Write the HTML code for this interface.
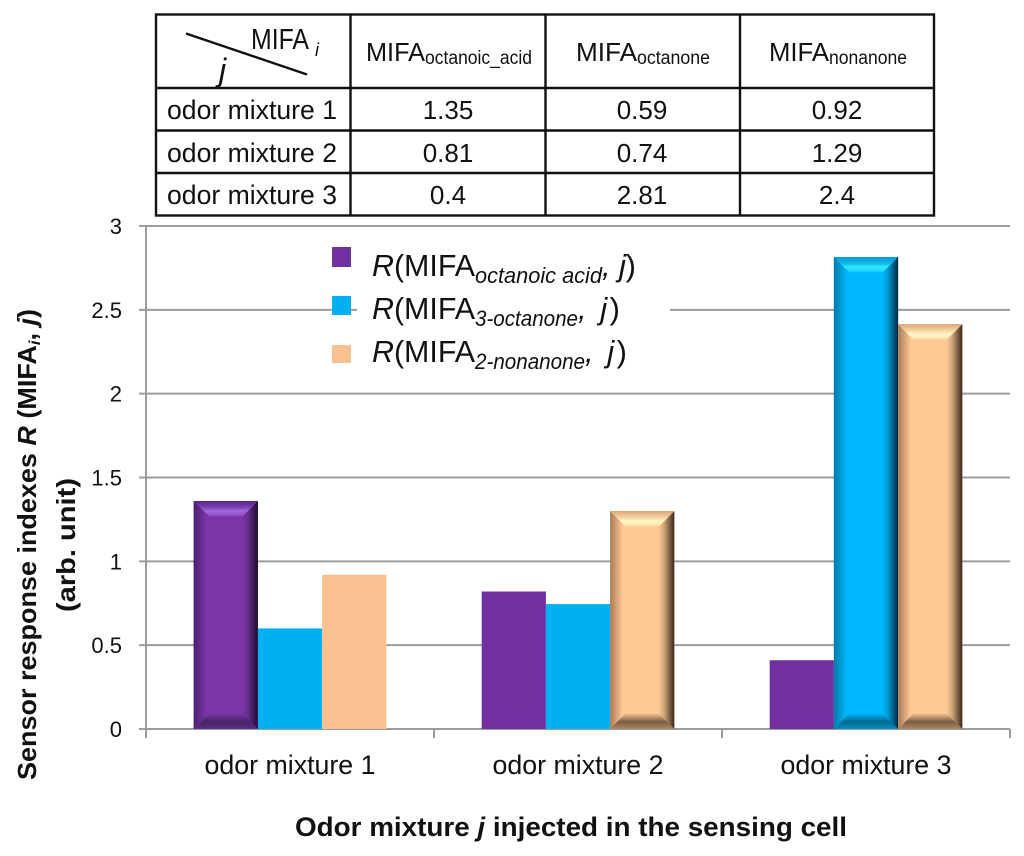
<!DOCTYPE html>
<html lang="en">
<head>
<meta charset="utf-8">
<title>Sensor response indexes by odor mixture</title>
<style>
html,body{margin:0;padding:0;background:#fff;}
svg{display:block;}
text{font-family:"Liberation Sans",sans-serif;fill:#111;}
</style>
</head>
<body>
<svg id="figure" width="1024" height="856" viewBox="0 0 1024 856" xmlns="http://www.w3.org/2000/svg">
  <defs>
    <linearGradient id="top-s0" x1="0" y1="0" x2="0" y2="1"><stop offset="0" stop-color="#552682"/><stop offset=".4" stop-color="#7d42b4"/><stop offset=".62" stop-color="#a466dc"/><stop offset=".85" stop-color="#9556c8"/><stop offset="1" stop-color="#7b35a8"/></linearGradient>
    <linearGradient id="top-s1" x1="0" y1="0" x2="0" y2="1"><stop offset="0" stop-color="#0096cc"/><stop offset=".4" stop-color="#10b8e8"/><stop offset=".62" stop-color="#30e8ff"/><stop offset=".85" stop-color="#20d8ff"/><stop offset="1" stop-color="#00b8ff"/></linearGradient>
    <linearGradient id="top-s2" x1="0" y1="0" x2="0" y2="1"><stop offset="0" stop-color="#dda477"/><stop offset=".4" stop-color="#f4d4a0"/><stop offset=".62" stop-color="#fff6c4"/><stop offset=".85" stop-color="#ffeab4"/><stop offset="1" stop-color="#ffc996"/></linearGradient>
    <linearGradient id="left-s0" x1="0" y1="0" x2="1" y2="0"><stop offset="0" stop-color="#4a2070"/><stop offset=".8" stop-color="#7b35a8"/><stop offset="1" stop-color="#7b35a8"/></linearGradient>
    <linearGradient id="left-s1" x1="0" y1="0" x2="1" y2="0"><stop offset="0" stop-color="#0078a8"/><stop offset=".8" stop-color="#00b8ff"/><stop offset="1" stop-color="#00b8ff"/></linearGradient>
    <linearGradient id="left-s2" x1="0" y1="0" x2="1" y2="0"><stop offset="0" stop-color="#a87c58"/><stop offset=".8" stop-color="#ffc996"/><stop offset="1" stop-color="#ffc996"/></linearGradient>
    <linearGradient id="right-s0" x1="0" y1="0" x2="1" y2="0"><stop offset="0" stop-color="#7b35a8"/><stop offset=".35" stop-color="#6a2e90"/><stop offset="1" stop-color="#1c0c30"/></linearGradient>
    <linearGradient id="right-s1" x1="0" y1="0" x2="1" y2="0"><stop offset="0" stop-color="#00b8ff"/><stop offset=".35" stop-color="#009cd8"/><stop offset="1" stop-color="#002a40"/></linearGradient>
    <linearGradient id="right-s2" x1="0" y1="0" x2="1" y2="0"><stop offset="0" stop-color="#ffc996"/><stop offset=".35" stop-color="#d4a67c"/><stop offset="1" stop-color="#3a2818"/></linearGradient>
    <linearGradient id="bottom-s0" x1="0" y1="0" x2="0" y2="1"><stop offset="0" stop-color="#7b35a8"/><stop offset=".55" stop-color="#472568"/><stop offset="1" stop-color="#5b2b86"/></linearGradient>
    <linearGradient id="bottom-s1" x1="0" y1="0" x2="0" y2="1"><stop offset="0" stop-color="#00b8ff"/><stop offset=".55" stop-color="#066a90"/><stop offset="1" stop-color="#0090c4"/></linearGradient>
    <linearGradient id="bottom-s2" x1="0" y1="0" x2="0" y2="1"><stop offset="0" stop-color="#ffc996"/><stop offset=".55" stop-color="#7a5c44"/><stop offset="1" stop-color="#b08660"/></linearGradient>
  </defs>

  <g id="data-table">
    <g stroke="#111" stroke-width="2.4" fill="none">
      <rect x="156" y="14.5" width="778" height="201"/>
      <line x1="350.5" y1="14" x2="350.5" y2="216"/>
      <line x1="545.5" y1="14" x2="545.5" y2="216"/>
      <line x1="740" y1="14" x2="740" y2="216"/>
      <line x1="156" y1="88" x2="934" y2="88"/>
      <line x1="156" y1="130.5" x2="934" y2="130.5"/>
      <line x1="156" y1="173" x2="934" y2="173"/>
      <line x1="186" y1="33.5" x2="307" y2="74.5"/>
    </g>
    <text x="251" y="49" font-size="29" textLength="58" lengthAdjust="spacingAndGlyphs">MIFA</text>
    <text x="315" y="56" font-size="18" font-style="italic">i</text>
    <text x="219" y="81" font-size="32" font-style="italic">j</text>

    <text x="366" y="61" font-size="26" textLength="59" lengthAdjust="spacingAndGlyphs">MIFA</text>
    <text x="425" y="64" font-size="19" textLength="107" lengthAdjust="spacingAndGlyphs">octanoic_acid</text>
    <text x="576" y="61" font-size="26" textLength="61" lengthAdjust="spacingAndGlyphs">MIFA</text>
    <text x="637" y="64" font-size="19" textLength="73" lengthAdjust="spacingAndGlyphs">octanone</text>
    <text x="769" y="61" font-size="26" textLength="60" lengthAdjust="spacingAndGlyphs">MIFA</text>
    <text x="829" y="64" font-size="19" textLength="78" lengthAdjust="spacingAndGlyphs">nonanone</text>

    <text x="167" y="119" font-size="27" textLength="170" lengthAdjust="spacingAndGlyphs">odor mixture 1</text>
    <text x="167" y="162" font-size="27" textLength="170" lengthAdjust="spacingAndGlyphs">odor mixture 2</text>
    <text x="167" y="204" font-size="27" textLength="170" lengthAdjust="spacingAndGlyphs">odor mixture 3</text>

    <g font-size="26" text-anchor="middle">
      <text x="448" y="119">1.35</text>
      <text x="642" y="119">0.59</text>
      <text x="837" y="119">0.92</text>
      <text x="448" y="162">0.81</text>
      <text x="642" y="162">0.74</text>
      <text x="837" y="162">1.29</text>
      <text x="448" y="204">0.4</text>
      <text x="642" y="204">2.81</text>
      <text x="837" y="204">2.4</text>
    </g>
  </g>

  <g id="chart"></g>

  <text transform="translate(36,780) rotate(-90)" font-size="26" font-weight="bold" textLength="471" lengthAdjust="spacingAndGlyphs">Sensor response indexes <tspan font-style="italic">R</tspan> (MIFA<tspan font-size="16" font-style="italic" dy="4">i</tspan><tspan dy="-4">, </tspan><tspan font-style="italic">j</tspan>)</text>
  <text transform="translate(75,612) rotate(-90)" font-size="26" font-weight="bold" textLength="134" lengthAdjust="spacingAndGlyphs">(arb. unit)</text>
  <text x="295" y="836" font-size="27" font-weight="bold" textLength="552" lengthAdjust="spacingAndGlyphs">Odor mixture <tspan font-style="italic">j</tspan> injected in the sensing cell</text>

  <g id="legend">
    <rect x="357" y="300" width="313" height="20" fill="#fff"/>
    <rect x="332" y="247" width="19" height="20" fill="#7030a0"/>
    <text x="372" y="276" font-size="31" textLength="103" lengthAdjust="spacingAndGlyphs"><tspan font-style="italic">R</tspan>(MIFA</text>
    <text x="475" y="283" font-size="22" font-style="italic" textLength="127" lengthAdjust="spacingAndGlyphs">octanoic acid</text>
    <text x="602" y="276" font-size="31" font-style="italic" textLength="34" lengthAdjust="spacing">, j<tspan font-style="normal">)</tspan></text>

    <rect x="332" y="296" width="19" height="19" fill="#00b0f0"/>
    <text x="372" y="319" font-size="31" textLength="103" lengthAdjust="spacingAndGlyphs"><tspan font-style="italic">R</tspan>(MIFA</text>
    <text x="475" y="326" font-size="22" font-style="italic" textLength="103" lengthAdjust="spacingAndGlyphs">3-octanone</text>
    <text x="578" y="319" font-size="31" font-style="italic" textLength="42" lengthAdjust="spacing">, j<tspan font-style="normal">)</tspan></text>

    <rect x="332" y="345" width="19" height="18" fill="#fac090"/>
    <text x="372" y="362" font-size="31" textLength="103" lengthAdjust="spacingAndGlyphs"><tspan font-style="italic">R</tspan>(MIFA</text>
    <text x="475" y="369" font-size="22" font-style="italic" textLength="110" lengthAdjust="spacingAndGlyphs">2-nonanone</text>
    <text x="585" y="362" font-size="31" font-style="italic" textLength="42" lengthAdjust="spacing">, j<tspan font-style="normal">)</tspan></text>
  </g>
</svg>

<script>
const categories = ["odor mixture 1", "odor mixture 2", "odor mixture 3"];
const octanoicAcidValues = [1.36, 0.82, 0.41];
const octanoneValues = [0.6, 0.745, 2.815];
const nonanoneValues = [0.92, 1.3, 2.415];
const yTickValues = [0, 0.5, 1, 1.5, 2, 2.5, 3];
const yTickLabels = ["0", "0.5", "1", "1.5", "2", "2.5", "3"];

const seriesValues = [octanoicAcidValues, octanoneValues, nonanoneValues];
const seriesKeys = ["octanoic-acid", "3-octanone", "2-nonanone"];
const plainColors = ["#7030a0", "#00b0f0", "#fac090"];
const centerColors = ["#7b35a8", "#00b8ff", "#ffc996"];
const beveledBars = new Set(["0-0", "1-2", "2-1", "2-2"]);

const SVG_NS = "http://www.w3.org/2000/svg";
const chart = document.getElementById("chart");
const PLOT_LEFT = 146, PLOT_RIGHT = 1010, PLOT_TOP = 226, PLOT_BOTTOM = 729;
const Y_MAX = 3, BAR_WIDTH = 64.2, BEVEL = 16, AXIS_COLOR = "#9c9c9c";

function yScale(v) { return PLOT_BOTTOM - (v / Y_MAX) * (PLOT_BOTTOM - PLOT_TOP); }
function groupLeft(i) { return PLOT_LEFT + i * (PLOT_RIGHT - PLOT_LEFT) / categories.length; }
function groupCenter(i) { return groupLeft(i + 0.5); }
function barX(i, s) { return groupCenter(i) - 1.5 * BAR_WIDTH + s * BAR_WIDTH; }

function make(tag, attrs, parent) {
  const el = document.createElementNS(SVG_NS, tag);
  for (const k in attrs) el.setAttribute(k, attrs[k]);
  parent.appendChild(el);
  return el;
}

yTickValues.forEach(function (v, i) {
  const y = yScale(v);
  const grid = make("line", { x1: PLOT_LEFT - 7, x2: PLOT_RIGHT, y1: y, y2: y, stroke: AXIS_COLOR, "stroke-width": 2 }, chart);
  
  
  const label = make("text", { x: 122, y: y + 8, "font-size": 22, "text-anchor": "end" }, chart);
  label.textContent = yTickLabels[i];
  
  
});

const yAxis = make("line", { x1: PLOT_LEFT, x2: PLOT_LEFT, y1: PLOT_TOP, y2: PLOT_BOTTOM, stroke: AXIS_COLOR, "stroke-width": 2 }, chart);



for (let i = 0; i <= categories.length; i++) {
  const tick = make("line", { x1: groupLeft(i), x2: groupLeft(i), y1: PLOT_BOTTOM, y2: PLOT_BOTTOM + 9, stroke: AXIS_COLOR, "stroke-width": 2 }, chart);
  
  
}

function pts(list) { return list.map(function (p) { return p[0] + "," + p[1]; }).join(" "); }

function drawBevel(group, s, x, y, w, h) {
  const d = Math.min(BEVEL, h / 2, w / 2);
  const r = x + w, b = y + h;
  make("rect", { x: x, y: y, width: w, height: h, fill: centerColors[s] }, group);
  make("polygon", { points: pts([[x, y], [x + d, y + d], [x + d, b - d], [x, b]]), fill: "url(#left-s" + s + ")" }, group);
  make("polygon", { points: pts([[r, y], [r - d, y + d], [r - d, b - d], [r, b]]), fill: "url(#right-s" + s + ")" }, group);
  make("polygon", { points: pts([[x, y], [r, y], [r - d, y + d], [x + d, y + d]]), fill: "url(#top-s" + s + ")" }, group);
  make("polygon", { points: pts([[x, b], [r, b], [r - d, b - d], [x + d, b - d]]), fill: "url(#bottom-s" + s + ")" }, group);
}

seriesValues.forEach(function (values, s) {
  values.forEach(function (v, i) {
    const x = barX(i, s), y = yScale(v), h = PLOT_BOTTOM - y;
    const bar = make("g", {}, chart);
    
    
    if (beveledBars.has(i + "-" + s)) {
      drawBevel(bar, s, x, y, BAR_WIDTH, h);
    } else {
      make("rect", { x: x, y: y, width: BAR_WIDTH, height: h, fill: plainColors[s] }, bar);
    }
  });
});

categories.forEach(function (name, i) {
  const label = make("text", { x: groupCenter(i), y: 774, "font-size": 27, "text-anchor": "middle", textLength: 171, lengthAdjust: "spacingAndGlyphs" }, chart);
  label.textContent = name;
  
  
});
</script>
</body>
</html>
